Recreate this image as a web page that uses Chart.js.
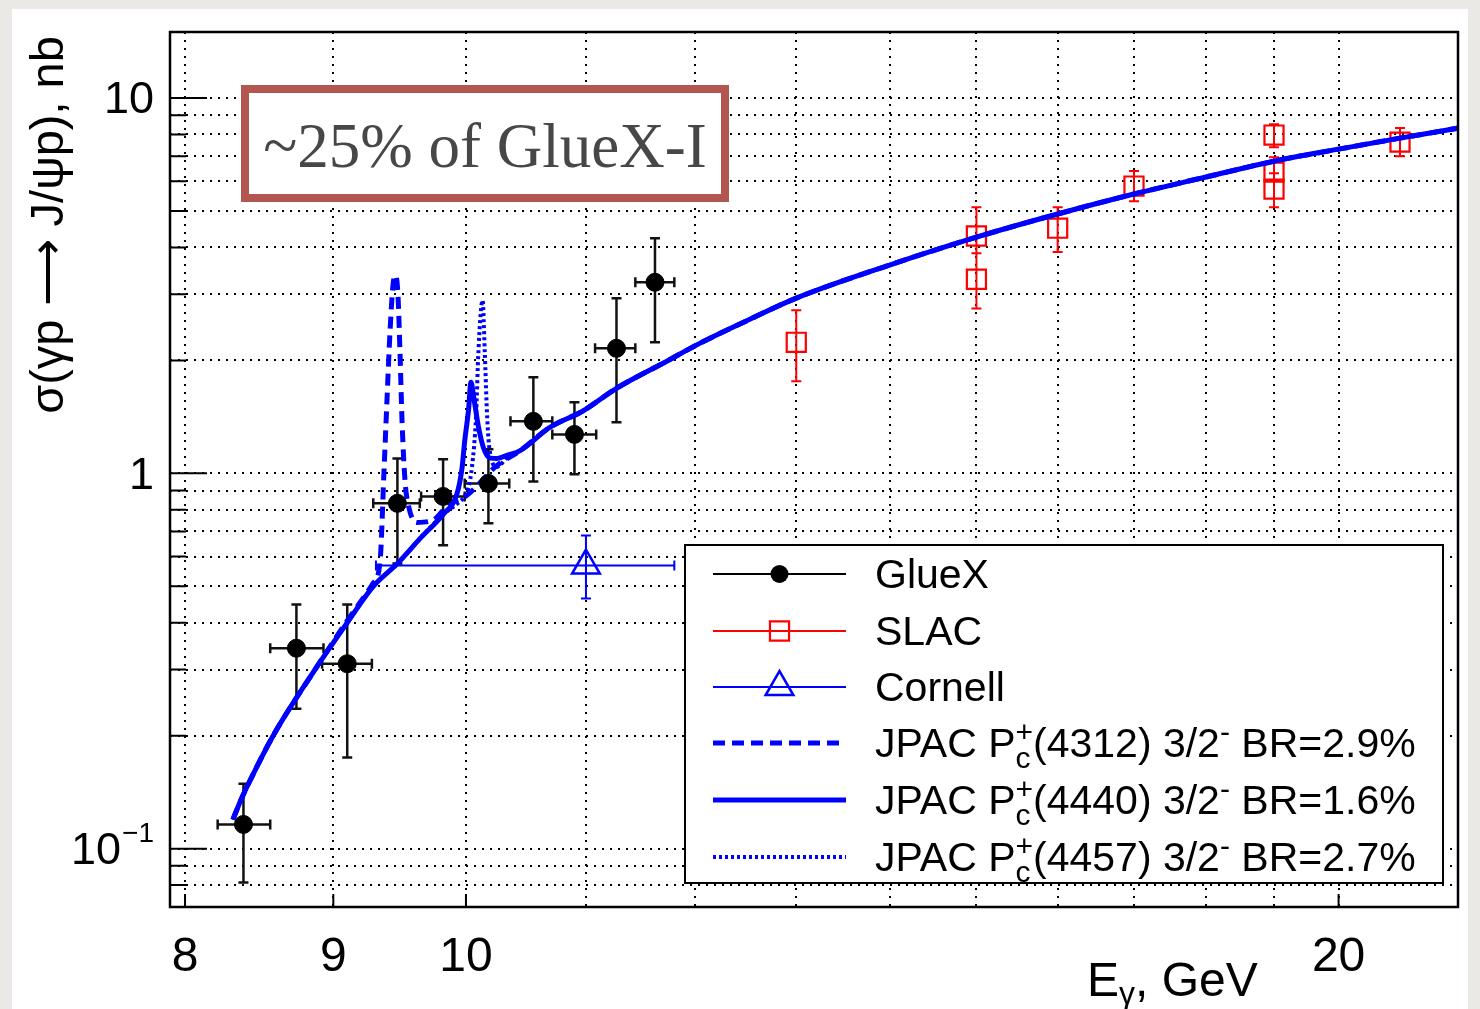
<!DOCTYPE html>
<html lang="en">
<head>
<meta charset="UTF-8">
<title>J/psi photoproduction cross section</title>
<script src="https://cdn.jsdelivr.net/npm/chart.js"></script>
<style>
    body {
        margin: 0;
        background-color: #ebe9e5;
    }

    .panel {
        position: absolute;
        left: 12px;
        top: 9px;
        width: 1456px;
        height: 1000px;
        background: #ffffff;
    }

    #chart-container {
        position: absolute;
        left: 0;
        top: 0;
        width: 1480px;
        height: 1009px;
    }
</style>
</head>
<body>

<div class="panel"></div>
<div id="chart-container">
    <canvas id="xsecChart" width="1480" height="1009"></canvas>
</div>

<script>
    // GlueX points with asymmetric errors (E in GeV, sigma in nb)
    const gluexE         = [8.38, 8.74, 9.10, 9.47, 9.82, 10.18, 10.55, 10.90, 11.27, 11.62];
    const gluexELow      = [8.21, 8.56, 8.92, 9.29, 9.65, 9.99, 10.36, 10.71, 11.08, 11.44];
    const gluexEHigh     = [8.56, 8.93, 9.28, 9.64, 9.99, 10.35, 10.71, 11.09, 11.44, 11.80];
    const gluexSigma     = [0.116, 0.342, 0.311, 0.832, 0.868, 0.940, 1.376, 1.270, 2.154, 3.23];
    const gluexSigmaLow  = [0.0812, 0.236, 0.175, 0.575, 0.643, 0.736, 0.952, 0.994, 1.368, 2.235];
    const gluexSigmaHigh = [0.149, 0.4475, 0.4475, 1.096, 1.090, 1.159, 1.803, 1.547, 2.93, 4.23];

    // SLAC points
    const slacE         = [13, 15, 15, 16, 17, 19, 19, 19, 21];
    const slacSigma     = [2.235, 4.29, 3.29, 4.50, 5.83, 7.97, 6.35, 5.72, 7.63];
    const slacSigmaLow  = [1.759, 3.86, 2.75, 3.89, 5.31, 7.40, 6.04, 5.12, 7.00];
    const slacSigmaHigh = [2.72, 5.12, 3.86, 5.12, 6.39, 8.52, 6.96, 6.31, 8.32];

    // Cornell point
    const cornellE         = [11.0];
    const cornellELow      = [9.31];
    const cornellEHigh     = [11.8];
    const cornellSigma     = [0.568];
    const cornellSigmaLow  = [0.464];
    const cornellSigmaHigh = [0.683];

    // JPAC model curves
    const jpac4312E = [8.31, 8.36, 8.41, 8.58, 8.87, 9.10, 9.29, 9.34, 9.37, 9.392, 9.415, 9.438, 9.456, 9.474, 9.489,
        9.505, 9.527, 9.557, 9.618, 9.74, 9.87, 10.0, 10.25, 10.44, 10.69, 10.97, 11.27, 11.73, 12.04, 12.53,
        13.0, 14.0, 15.0, 16.0, 17.0, 18.0, 19.0, 20.0, 21.0, 22.0];
    const jpac4312Sigma = [0.1195, 0.134, 0.148, 0.200, 0.300, 0.405, 0.51, 0.58, 1.02, 1.57, 2.4, 3.2, 3.37, 3.0, 2.13,
        1.38, 0.96, 0.81, 0.74, 0.75, 0.83, 0.87, 1.05, 1.15, 1.327, 1.464, 1.685, 1.99, 2.22, 2.574,
        2.93, 3.59, 4.26, 4.91, 5.55, 6.16, 6.79, 7.31, 7.82, 8.32];

    const jpac4440E = [8.31, 8.36, 8.41, 8.58, 8.87, 9.10, 9.29, 9.47, 9.65, 9.82, 9.93, 9.97, 9.99, 10.02, 10.04,
        10.06, 10.10, 10.14, 10.19, 10.25, 10.33, 10.44, 10.69, 10.97, 11.27, 11.73, 12.04, 12.53,
        13.0, 14.0, 15.0, 16.0, 17.0, 18.0, 19.0, 20.0, 21.0, 22.0];
    const jpac4440Sigma = [0.1195, 0.134, 0.148, 0.200, 0.300, 0.400, 0.500, 0.575, 0.675, 0.777, 0.885, 1.04, 1.22, 1.47, 1.75,
        1.61, 1.33, 1.17, 1.10, 1.096, 1.117, 1.15, 1.327, 1.464, 1.685, 1.99, 2.22, 2.574,
        2.93, 3.59, 4.26, 4.91, 5.55, 6.16, 6.79, 7.31, 7.82, 8.32];

    const jpac4457E = [8.31, 8.36, 8.41, 8.58, 8.87, 9.10, 9.29, 9.47, 9.65, 9.82, 9.93, 9.99, 10.02, 10.048, 10.08,
        10.10, 10.133, 10.15, 10.17, 10.19, 10.25, 10.33, 10.44, 10.69, 10.97, 11.27, 11.73, 12.04, 12.53,
        13.0, 14.0, 15.0, 16.0, 17.0, 18.0, 19.0, 20.0, 21.0, 22.0];
    const jpac4457Sigma = [0.1195, 0.134, 0.148, 0.200, 0.300, 0.400, 0.500, 0.575, 0.675, 0.777, 0.83, 0.87, 0.92, 1.04, 1.41,
        2.13, 2.89, 2.13, 1.41, 1.15, 1.04, 1.10, 1.15, 1.327, 1.464, 1.685, 1.99, 2.22, 2.574,
        2.93, 3.59, 4.26, 4.91, 5.55, 6.16, 6.79, 7.31, 7.82, 8.32];

    // Axes
    const xGridValues = [8, 9, 10, 11, 12, 13, 14, 15, 16, 17, 18, 19, 20];
    const yGridValues = [0.08, 0.09, 0.1, 0.2, 0.3, 0.4, 0.5, 0.6, 0.7, 0.8, 0.9,
        1, 2, 3, 4, 5, 6, 7, 8, 9, 10];
    const xTickLabels = [8, 9, 10, 20];
    const yTickLabels = [0.1, 1, 10];

    // Legend text pieces
    const resonanceNames = ['4312', '4440', '4457'];
    const branchingRatios = ['2.9%', '1.6%', '2.7%'];

    const SANS = '"Liberation Sans", Arial, Helvetica, sans-serif';
    const BLUE = '#0000ff';
    const RED = '#ff0000';

    function toPoints(xs, ys) {
        return xs.map((x, i) => ({ x: x, y: ys[i] }));
    }

    function curveSet(label, xs, ys, width, dash, order) {
        return {
            label: label,
            data: toPoints(xs, ys),
            showLine: true,
            borderColor: BLUE,
            backgroundColor: BLUE,
            borderWidth: width,
            borderDash: dash,
            pointRadius: 0,
            cubicInterpolationMode: 'monotone',
            order: order
        };
    }

    const gluexSet = {
        label: 'GlueX',
        data: toPoints(gluexE, gluexSigma),
        pointStyle: 'circle',
        pointRadius: 9,
        pointBorderWidth: 1,
        borderColor: '#000000',
        backgroundColor: '#000000',
        order: 0
    };
    const slacSet = {
        label: 'SLAC',
        data: toPoints(slacE, slacSigma),
        pointStyle: 'rect',
        pointRadius: 13.5,
        pointBorderWidth: 2.2,
        borderColor: RED,
        backgroundColor: 'rgba(0,0,0,0)',
        order: 5
    };
    const cornellSet = {
        label: 'Cornell',
        data: toPoints(cornellE, cornellSigma),
        pointStyle: 'triangle',
        pointRadius: 16,
        pointBorderWidth: 2.5,
        borderColor: BLUE,
        backgroundColor: 'rgba(0,0,0,0)',
        order: 5
    };
    const set4312 = curveSet('JPAC 4312', jpac4312E, jpac4312Sigma, 5, [12, 7], 3);
    const set4440 = curveSet('JPAC 4440', jpac4440E, jpac4440Sigma, 5, [], 1);
    const set4457 = curveSet('JPAC 4457', jpac4457E, jpac4457Sigma, 4, [3, 3], 2);

    function errorBars(ctx, xs, ys, xLo, xHi, yLo, yHi, color, width, cap, chart) {
        const xs_ = chart.scales.x, ys_ = chart.scales.y;
        ctx.save();
        ctx.strokeStyle = color;
        ctx.lineWidth = width;
        ctx.beginPath();
        for (let i = 0; i < xs.length; i++) {
            const px = xs_.getPixelForValue(xs[i]);
            const py = ys_.getPixelForValue(ys[i]);
            const top = ys_.getPixelForValue(yHi[i]);
            const bot = ys_.getPixelForValue(yLo[i]);
            ctx.moveTo(px, top); ctx.lineTo(px, bot);
            ctx.moveTo(px - cap, top); ctx.lineTo(px + cap, top);
            ctx.moveTo(px - cap, bot); ctx.lineTo(px + cap, bot);
            if (xLo) {
                const l = xs_.getPixelForValue(xLo[i]);
                const r = xs_.getPixelForValue(xHi[i]);
                ctx.moveTo(l, py); ctx.lineTo(r, py);
                ctx.moveTo(l, py - cap); ctx.lineTo(l, py + cap);
                ctx.moveTo(r, py - cap); ctx.lineTo(r, py + cap);
            }
        }
        ctx.stroke();
        ctx.restore();
    }

    // Draws text made of plain runs and stacked super/subscripts
    function richText(ctx, x, y, parts, size) {
        let cx = x;
        ctx.textAlign = 'left';
        ctx.textBaseline = 'alphabetic';
        parts.forEach(p => {
            if (typeof p === 'string') {
                ctx.font = size + 'px ' + SANS;
                ctx.fillText(p, cx, y);
                cx += ctx.measureText(p).width;
            } else {
                const small = Math.round(size * 0.72);
                ctx.font = small + 'px ' + SANS;
                let w = 0;
                if (p.sup) {
                    ctx.fillText(p.sup, cx, y - size * 0.36);
                    w = Math.max(w, ctx.measureText(p.sup).width);
                }
                if (p.sub) {
                    ctx.fillText(p.sub, cx, y + size * 0.26);
                    w = Math.max(w, ctx.measureText(p.sub).width);
                }
                cx += w;
            }
        });
        return cx;
    }

    function legendSample(ctx, ds, x1, x2, y) {
        const mid = (x1 + x2) / 2;
        ctx.save();
        ctx.strokeStyle = ds.borderColor;
        ctx.lineWidth = ds.showLine ? ds.borderWidth : 2;
        ctx.setLineDash(ds.showLine ? ds.borderDash : []);
        ctx.beginPath();
        ctx.moveTo(x1, y);
        ctx.lineTo(x2, y);
        ctx.stroke();
        ctx.setLineDash([]);
        if (!ds.showLine) {
            ctx.fillStyle = ds.backgroundColor;
            ctx.lineWidth = ds.pointBorderWidth;
            ctx.strokeStyle = ds.borderColor;
            if (ds.pointStyle === 'circle') {
                ctx.beginPath();
                ctx.arc(mid, y, ds.pointRadius, 0, Math.PI * 2);
                ctx.fill();
            } else {
                Chart.helpers.drawPoint(ctx, {
                    pointStyle: ds.pointStyle,
                    radius: ds.pointRadius,
                    rotation: 0,
                    borderWidth: ds.pointBorderWidth
                }, mid, y);
            }
        }
        ctx.restore();
    }

    const overlayPlugin = {
        id: 'overlay',
        beforeDatasetsDraw(chart) {
            const ctx = chart.ctx;
            errorBars(ctx, slacE, slacSigma, null, null, slacSigmaLow, slacSigmaHigh, RED, 2, 5, chart);
            errorBars(ctx, cornellE, cornellSigma, cornellELow, cornellEHigh, cornellSigmaLow, cornellSigmaHigh, BLUE, 2, 5, chart);
            errorBars(ctx, gluexE, gluexSigma, gluexELow, gluexEHigh, gluexSigmaLow, gluexSigmaHigh, '#111111', 2.5, 5, chart);
        },
        afterDatasetsDraw(chart) {
            const ctx = chart.ctx;
            const area = chart.chartArea;
            const xs = chart.scales.x, ys = chart.scales.y;

            // Frame and tick marks
            ctx.save();
            ctx.strokeStyle = '#000000';
            ctx.lineWidth = 2.5;
            ctx.strokeRect(area.left, area.top, area.right - area.left, area.bottom - area.top);
            ctx.lineWidth = 2;
            ctx.beginPath();
            yGridValues.forEach(v => {
                const py = ys.getPixelForValue(v);
                const len = yTickLabels.includes(v) ? 37 : 16;
                ctx.moveTo(area.left, py);
                ctx.lineTo(area.left + len, py);
            });
            xTickLabels.forEach(v => {
                const px = xs.getPixelForValue(v);
                ctx.moveTo(px, area.bottom);
                ctx.lineTo(px, area.bottom - 13);
            });
            ctx.stroke();

            // Tick labels
            ctx.fillStyle = '#000000';
            ctx.textBaseline = 'middle';
            ctx.textAlign = 'center';
            ctx.font = '48px ' + SANS;
            xTickLabels.forEach(v => {
                ctx.fillText(String(v), xs.getPixelForValue(v), 958);
            });
            ctx.textAlign = 'right';
            yTickLabels.forEach(v => {
                const py = ys.getPixelForValue(v) + 3;
                const exp = Math.round(Math.log10(v));
                if (exp === 0) {
                    ctx.font = '45px ' + SANS;
                    ctx.fillText('1', 154, py);
                } else if (exp === 1) {
                    ctx.font = '45px ' + SANS;
                    ctx.fillText('10', 154, py);
                } else {
                    ctx.font = '28px ' + SANS;
                    const sup = '\u2212' + Math.abs(exp);
                    ctx.fillText(sup, 154, py - 17);
                    const w = ctx.measureText(sup).width;
                    ctx.font = '45px ' + SANS;
                    ctx.fillText('10', 154 - w - 1, py);
                }
            });

            // Axis titles
            ctx.textAlign = 'left';
            ctx.textBaseline = 'alphabetic';
            ctx.font = '48px ' + SANS;
            ctx.fillText('E', 1087, 996);
            let tx = 1087 + ctx.measureText('E').width;
            ctx.font = '32px ' + SANS;
            ctx.fillText('\u03b3', tx, 1004);
            tx += ctx.measureText('\u03b3').width;
            ctx.font = '48px ' + SANS;
            ctx.fillText(', GeV', tx, 996);

            ctx.save();
            ctx.translate(63, 225);
            ctx.rotate(-Math.PI / 2);
            ctx.textAlign = 'center';
            ctx.font = '47px ' + SANS;
            ctx.fillText('\u03c3(\u03b3p \u27f6 J/\u03c8p), nb', 0, 0);
            ctx.restore();

            // Exposure note
            ctx.fillStyle = '#ffffff';
            ctx.fillRect(241, 85, 488, 117);
            ctx.strokeStyle = '#b3564f';
            ctx.lineWidth = 8;
            ctx.strokeRect(245, 89, 480, 109);
            ctx.fillStyle = '#474747';
            ctx.textAlign = 'center';
            ctx.font = '63px "Liberation Serif", "Times New Roman", serif';
            ctx.fillText('~25% of GlueX-I', 485, 167);

            // Legend
            const box = { left: 685, top: 545, right: 1443, bottom: 883 };
            ctx.fillStyle = '#ffffff';
            ctx.fillRect(box.left, box.top, box.right - box.left, box.bottom - box.top);
            ctx.strokeStyle = '#000000';
            ctx.lineWidth = 2;
            ctx.strokeRect(box.left, box.top, box.right - box.left, box.bottom - box.top);

            const rows = [
                { ds: gluexSet, parts: ['GlueX'] },
                { ds: slacSet, parts: ['SLAC'] },
                { ds: cornellSet, parts: ['Cornell'] }
            ];
            [set4312, set4440, set4457].forEach((ds, i) => {
                rows.push({
                    ds: ds,
                    parts: ['JPAC P', { sup: '+', sub: 'c' }, '(' + resonanceNames[i] + ') 3/2',
                        { sup: '-' }, ' BR=' + branchingRatios[i]]
                });
            });
            const rowY = [574, 631, 687, 743, 800, 857];
            rows.forEach((row, i) => {
                legendSample(ctx, row.ds, 713, 846, rowY[i]);
                ctx.fillStyle = '#000000';
                richText(ctx, 875, rowY[i] + 14, row.parts, 41);
            });
            ctx.restore();
        }
    };

    const ctx = document.getElementById('xsecChart').getContext('2d');
    const xsecChart = new Chart(ctx, {
        type: 'scatter',
        data: {
            datasets: [gluexSet, set4440, set4457, set4312, cornellSet, slacSet]
        },
        options: {
            responsive: false,
            animation: false,
            layout: {
                padding: { left: 170, top: 32, right: 22, bottom: 102 }
            },
            plugins: {
                legend: { display: false },
                tooltip: { enabled: false }
            },
            scales: {
                x: {
                    type: 'logarithmic',
                    min: 7.905,
                    max: 21.99,
                    afterBuildTicks: axis => {
                        axis.ticks = xGridValues.map(v => ({ value: v }));
                    },
                    ticks: { display: false },
                    grid: { color: '#000000', lineWidth: 2, drawTicks: false },
                    border: { display: false, dash: [2, 6] }
                },
                y: {
                    type: 'logarithmic',
                    min: 0.0699,
                    max: 15.0,
                    afterBuildTicks: axis => {
                        axis.ticks = yGridValues.map(v => ({ value: v }));
                    },
                    ticks: { display: false },
                    grid: { color: '#000000', lineWidth: 2, drawTicks: false },
                    border: { display: false, dash: [2, 6] }
                }
            }
        },
        plugins: [overlayPlugin]
    });
</script>

</body>
</html>
